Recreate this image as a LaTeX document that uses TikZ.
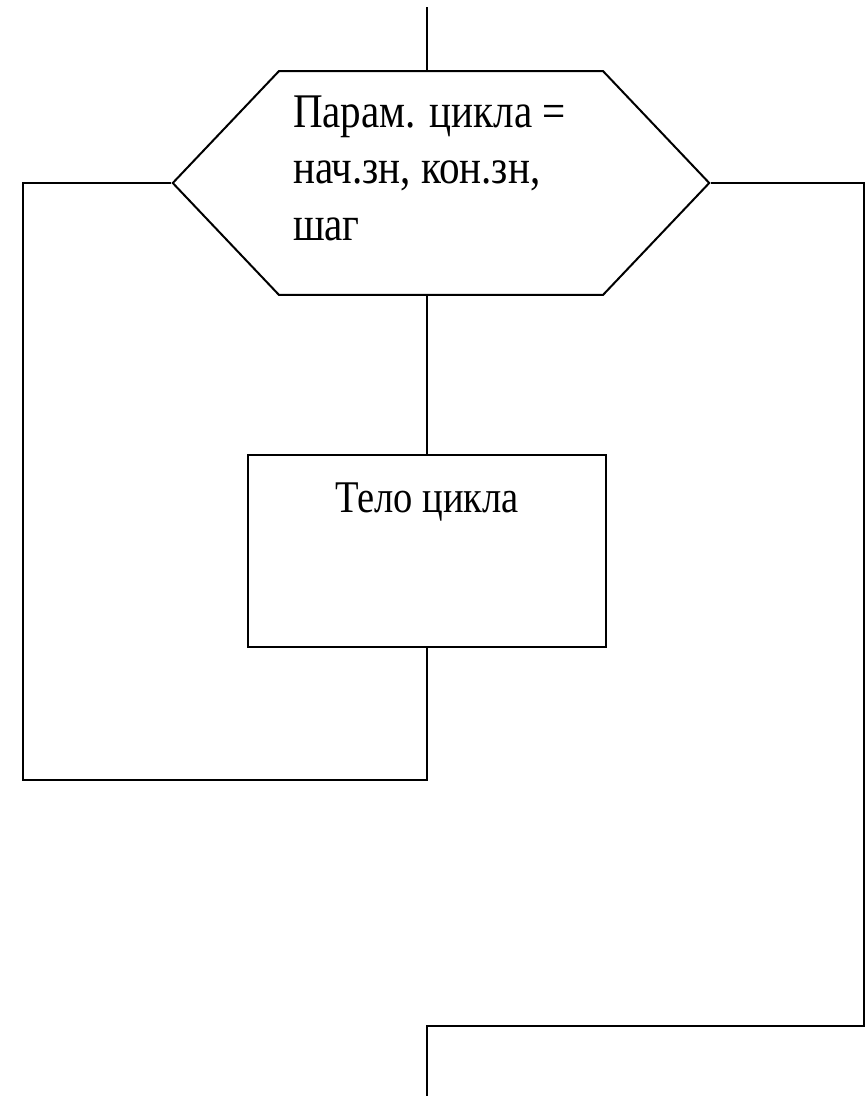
\documentclass[tikz,border=0pt]{standalone}
\usepackage{fontspec}
\setmainfont[FakeStretch=0.85]{Liberation Serif}
\usetikzlibrary{shapes.symbols}

\begin{document}
\begin{tikzpicture}[x=0.02cm, y=-0.02cm, line width=0.04cm,
  hexbox/.style={draw, shape=signal, signal to=west and east,
    signal pointer angle=93, inner xsep=0.28cm, inner ysep=0pt,
    text width=5.92cm, align=flush left, text height=1.12cm, text depth=3.36cm,
    font=\fontsize{27.5}{32.4}\selectfont},
  bodybox/.style={draw, rectangle, inner sep=0pt, minimum width=7.18cm,
    text height=1.14cm, text depth=2.7cm,
    font=\fontsize{25.8}{30}\selectfont}]
  \useasboundingbox (0,0) rectangle (866,1096);

  % loop header and loop body
  \node[hexbox] (param) at (441,183) {Парам. цикла =\\нач.зн, кон.зн,\\шаг};
  \node[bodybox] (body) at (427,551) {Тело цикла};

  % free ends of the connectors
  \coordinate (top) at (427,7);
  \coordinate (ll) at (23,780);
  \coordinate (lr) at (864,1026);
  \coordinate (bot) at (427,1096);

  % flow lines
  \draw (top) -- (top |- param.north);
  \draw (param.south -| body.north) -- (body.north);
  \draw (param.west) -| (ll) -| (body.south);
  \draw (param.east) -| (lr) -| (bot);
\end{tikzpicture}
\end{document}
